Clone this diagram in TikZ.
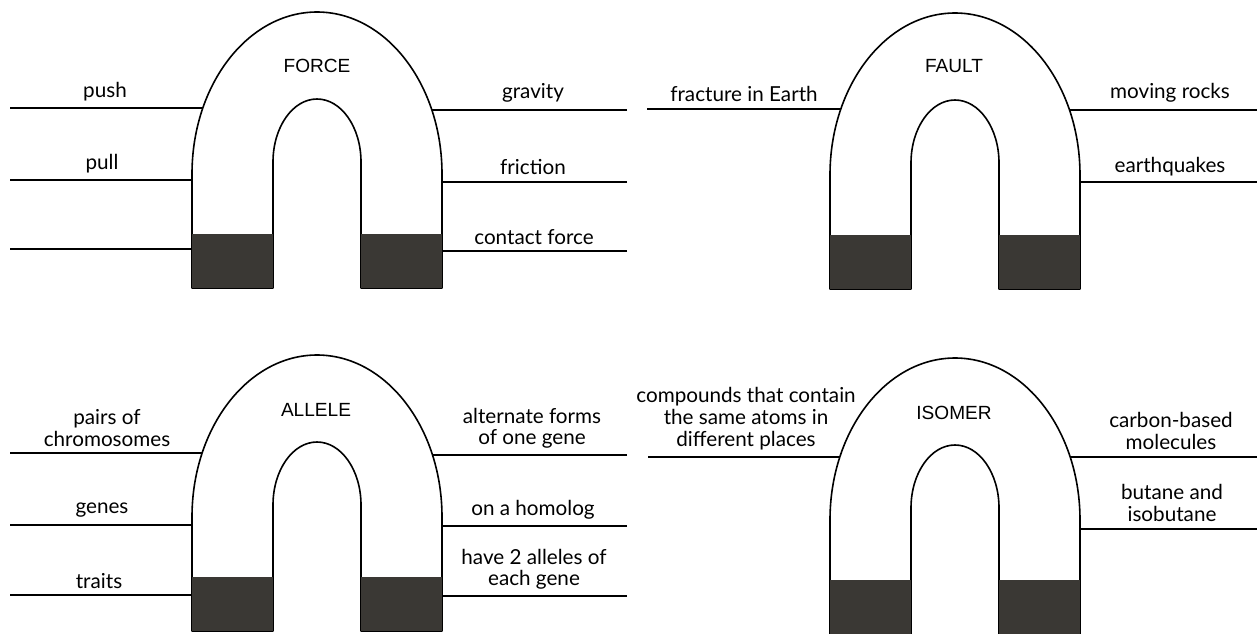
\documentclass[tikz,border=0pt]{standalone}
\usepackage{fontspec}
\newfontfamily\labelfont{Lato}
\newfontfamily\titlefont{Liberation Sans}
\definecolor{poledark}{RGB}{58,56,52}
\tikzset{
  magnetbody/.style={fill=white,draw=black,line width=1.2pt,line join=round},
  poleblock/.style={fill=poledark},
  answerline/.style={draw=black,line width=1.3pt},
  lbl/.style={font=\labelfont\fontsize{15.5}{16.2}\selectfont,align=center,anchor=south,inner sep=0pt},
  ttl/.style={font=\titlefont\fontsize{14.3}{16}\selectfont,inner sep=0pt}
}
\newcommand\drawmagnet[2]{%
  \path[magnetbody] (#1-125,#2+276) -- (#1-125,#2+162)
    arc[start angle=180,end angle=0,x radius=93.75pt,y radius=121.5pt]
    -- (#1+125,#2+276) -- (#1+44,#2+276) -- (#1+44,#2+150)
    arc[start angle=0,end angle=180,x radius=33pt,y radius=47.25pt]
    -- (#1-44,#2+276) -- cycle;
  \path[poleblock] (#1-125,#2+222) rectangle (#1-44,#2+276);
  \path[poleblock] (#1+44,#2+222) rectangle (#1+125,#2+276);
}
\begin{document}
\begin{tikzpicture}[x=0.75pt,y=-0.75pt]
\useasboundingbox (0,0) rectangle (1257,633);
\fill[white] (0,0) rectangle (1257,633);

% ---------- answer lines ----------
% magnet 1 (FORCE)
\coordinate (a1) at (10,108);  \draw[answerline] (a1) -- (257,108);
\coordinate (a2) at (10,180);  \draw[answerline] (a2) -- (257,180);
\coordinate (a3) at (10,249);  \draw[answerline] (a3) -- (257,249);
\coordinate (a4) at (627,110); \draw[answerline] (a4) -- (377,110);
\coordinate (a5) at (627,182); \draw[answerline] (a5) -- (377,182);
\coordinate (a6) at (627,251); \draw[answerline] (a6) -- (377,251);
% magnet 2 (FAULT)
\coordinate (b1) at (647,109);  \draw[answerline] (b1) -- (895,109);
\coordinate (b2) at (1257,110); \draw[answerline] (b2) -- (1015,110);
\coordinate (b3) at (1257,182); \draw[answerline] (b3) -- (1015,182);
% magnet 3 (ALLELE)
\coordinate (c1) at (10,453);  \draw[answerline] (c1) -- (257,453);
\coordinate (c2) at (10,525);  \draw[answerline] (c2) -- (257,525);
\coordinate (c3) at (10,595);  \draw[answerline] (c3) -- (257,595);
\coordinate (c4) at (627,455); \draw[answerline] (c4) -- (377,455);
\coordinate (c5) at (627,526); \draw[answerline] (c5) -- (377,526);
\coordinate (c6) at (627,596); \draw[answerline] (c6) -- (377,596);
% magnet 4 (ISOMER)
\coordinate (d1) at (648,457);  \draw[answerline] (d1) -- (895,457);
\coordinate (d2) at (1257,457); \draw[answerline] (d2) -- (1015,457);
\coordinate (d3) at (1257,529); \draw[answerline] (d3) -- (1015,529);

% ---------- magnets ----------
\drawmagnet{317}{12}
\drawmagnet{955}{13}
\drawmagnet{317}{355}
\drawmagnet{955}{358}

% ---------- titles ----------
\node[ttl] (t1) at (317,66) {FORCE};
\node[ttl] (t2) at (954,66) {FAULT};
\node[ttl] (t3) at (316,410) {ALLELE};
\node[ttl] (t4) at (954,413) {ISOMER};

% ---------- labels ----------
\node[lbl] (l1) at (105,101) {push};
\node[lbl] (l2) at (102,173) {pull};
\node[lbl] (l3) at (533,103) {gravity};
\node[lbl] (l4) at (533,175) {friction};
\node[lbl] (l5) at (534,245) {contact force};

\node[lbl] (l6) at (744,102) {fracture in Earth};
\node[lbl] (l7) at (1170,103) {moving rocks};
\node[lbl] (l8) at (1170,176) {earthquakes};

\node[lbl] (l9) at (107,447) {pairs of\\chromosomes};
\node[lbl] (l10) at (102,518) {genes};
\node[lbl] (l11) at (99,589) {traits};
\node[lbl] (l12) at (532,449) {alternate forms\\of one gene};
\node[lbl] (l13) at (533,520) {on a homolog};
\node[lbl] (l14) at (534,590) {have 2 alleles of\\each gene};

\node[lbl] (l15) at (746,450) {compounds that contain\\the same atoms in\\different places};
\node[lbl] (l16) at (1171,450) {carbon-based\\molecules};
\node[lbl] (l17) at (1172,522) {butane and\\isobutane};
\end{tikzpicture}
\end{document}
